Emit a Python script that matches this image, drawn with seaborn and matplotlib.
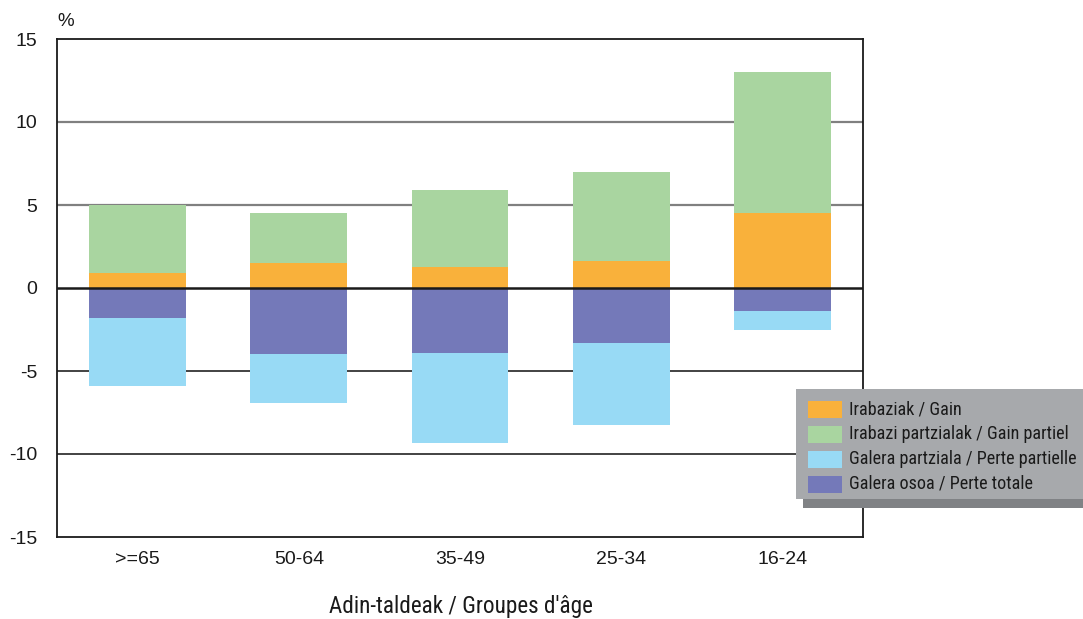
import matplotlib
matplotlib.use("Agg")
import matplotlib.pyplot as plt
from matplotlib.patches import Rectangle
from matplotlib import font_manager
import seaborn as sns
import pandas as pd

# Age groups and balance components (% of each group)
groups = [">=65", "50-64", "35-49", "25-34", "16-24"]
gain = [0.9, 1.5, 1.25, 1.6, 4.5]
partial_gain = [4.1, 3.0, 4.65, 5.4, 8.5]
total_loss = [-1.8, -4.0, -3.9, -3.3, -1.4]
partial_loss = [-4.1, -2.9, -5.45, -4.95, -1.15]

series_labels = [
    "Irabaziak / Gain",
    "Irabazi partzialak / Gain partiel",
    "Galera partziala / Perte partielle",
    "Galera osoa / Perte totale",
]
colors = {
    "gain": "#F9B13B",
    "partial_gain": "#A9D5A0",
    "partial_loss": "#98DAF5",
    "total_loss": "#7479B9",
}

df = pd.DataFrame({
    "group": groups,
    "gain": gain,
    "partial_gain": partial_gain,
    "total_loss": total_loss,
    "partial_loss": partial_loss,
})
df["pos_top"] = df["gain"] + df["partial_gain"]
df["neg_bottom"] = df["total_loss"] + df["partial_loss"]

sns.set_theme(style="white")
plt.rcParams["font.family"] = ["Liberation Sans", "DejaVu Sans"]

# narrowest available family for the legend and axis caption
installed = {f.name for f in font_manager.fontManager.ttflist}
narrow_family = "DejaVu Sans"
for cand in ["Liberation Sans Narrow", "DejaVu Sans Condensed", "Roboto Condensed",
             "Open Sans Condensed", "Roboto", "Lato"]:
    if cand in installed:
        narrow_family = cand
        break
narrow = [narrow_family, "DejaVu Sans"]

W, H = 1083, 619
fig = plt.figure(figsize=(W / 100, H / 100), dpi=100)
ax = fig.add_axes([57 / W, 1 - 537 / H, (863 - 57) / W, (537 - 39) / H])

# horizontal reference lines behind the bars
for v, c, lw in [(5, "#808080", 1.6), (10, "#808080", 1.6), (-5, "#222222", 1.2), (-10, "#222222", 1.2)]:
    ax.axhline(v, color=c, lw=lw, zorder=0)

bar_kw = dict(order=groups, width=0.6, saturation=1, linewidth=0, ax=ax)
# stacked segments drawn as cumulative totals, outermost first
sns.barplot(data=df, x="group", y="pos_top", color=colors["partial_gain"], **bar_kw)
sns.barplot(data=df, x="group", y="gain", color=colors["gain"], **bar_kw)
sns.barplot(data=df, x="group", y="neg_bottom", color=colors["partial_loss"], **bar_kw)
sns.barplot(data=df, x="group", y="total_loss", color=colors["total_loss"], **bar_kw)

ax.axhline(0, color="#1a1a1a", lw=1.8, zorder=5)

ax.set_xlim(-0.5, 4.5)
ax.set_ylim(-15, 15)
ax.set_yticks([-15, -10, -5, 0, 5, 10, 15])
ax.set_yticklabels(["-15", "-10", "-5", "0", "5", "10", "15"])
ax.tick_params(axis="y", length=0, pad=14, labelsize=14, colors="#1a1a1a")
ax.tick_params(axis="x", length=0, pad=10, labelsize=14, colors="#1a1a1a")
for s in ax.spines.values():
    s.set_visible(True)
    s.set_color("#1a1a1a")
    s.set_linewidth(1.3)
ax.set_ylabel("")
ax.set_xlabel("")
fig.text(65.5 / W, 1 - 22 / H, "%", fontsize=13.5, ha="center", va="center",
         color="#1a1a1a")
caption = fig.text(461 / W, 1 - 607 / H, "Adin-taldeak / Groupes d'âge", fontsize=13,
                   family=narrow, ha="center", va="center", color="#1a1a1a")

# legend panel with offset shadow
lx0, lx1, ly0, ly1 = 796, W, 389, 499
fig.patches.append(Rectangle((803 / W, 1 - 508 / H), (W - 803) / W, (508 - 400) / H,
                             transform=fig.transFigure, facecolor="#808285", edgecolor="none", zorder=10))
fig.patches.append(Rectangle((lx0 / W, 1 - ly1 / H), (lx1 - lx0) / W, (ly1 - ly0) / H,
                             transform=fig.transFigure, facecolor="#A7A9AC", edgecolor="none", zorder=11))
legend_colors = [colors["gain"], colors["partial_gain"], colors["partial_loss"], colors["total_loss"]]
legend_texts = []
for i, (lab, col) in enumerate(zip(series_labels, legend_colors)):
    yc = 409 + 25 * i
    fig.patches.append(Rectangle((808 / W, 1 - (yc + 8.5) / H), 34 / W, 17 / H,
                                 transform=fig.transFigure, facecolor=col, edgecolor="none", zorder=12))
    legend_texts.append(fig.text(849 / W, 1 - yc / H, lab, fontsize=12, family=narrow, ha="left",
                                 va="center", color="#1a1a1a", zorder=13))

# size the legend type and caption to their set widths
renderer = fig.canvas.get_renderer()
widest = max(t.get_window_extent(renderer).width for t in legend_texts)
size = min(14, 12 * 227 / widest)
for t in legend_texts:
    t.set_fontsize(size)
cap_w = caption.get_window_extent(renderer).width
caption.set_fontsize(min(17, 13 * 263 / cap_w))

fig.savefig("out.png", dpi=100)
